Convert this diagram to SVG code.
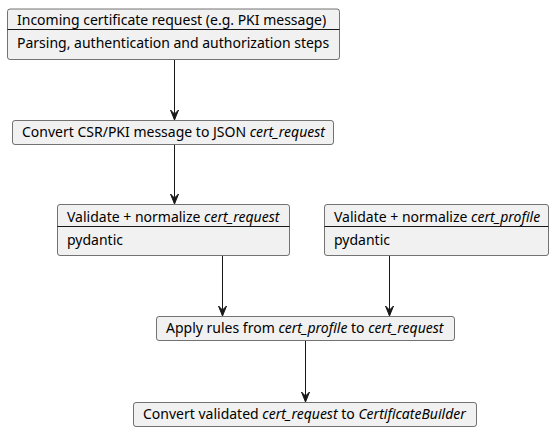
<svg xmlns="http://www.w3.org/2000/svg" width="556" height="431" viewBox="0 0 556 431">
<style>
.box{fill:#f1f1f1;stroke:#181818;stroke-width:0.6}
.div{stroke:#181818;stroke-width:1}
text{font-family:"Noto Sans","DejaVu Sans",sans-serif;font-size:14px;fill:#000}
.i{font-style:italic}
.ln{stroke:#181818;stroke-width:1;fill:none}
.ah{fill:#181818;stroke:#181818;stroke-width:1}
</style>
<rect width="556" height="431" fill="#fff"/>
<g id="n1">
<rect class="box" x="7.5" y="9" width="332" height="50.5" rx="2.5"/>
<line class="div" x1="7.5" y1="29.5" x2="339.5" y2="29.5"/>
<text x="17" y="25">Incoming certificate request (e.g. PKI message)</text>
<text x="17" y="47.5">Parsing, authentication and authorization steps</text>
</g>
<g id="n2">
<rect class="box" x="12.5" y="120.5" width="321" height="24" rx="2.5"/>
<text x="22" y="137">Convert CSR/PKI message to JSON <tspan class="i">cert_request</tspan></text>
</g>
<g id="n3">
<rect class="box" x="57.5" y="204.5" width="232" height="51" rx="2.5"/>
<line class="div" x1="57.5" y1="226.5" x2="289.5" y2="226.5"/>
<text x="67" y="221.5">Validate + normalize <tspan class="i">cert_request</tspan></text>
<text x="67" y="244.5">pydantic</text>
</g>
<g id="n4">
<rect class="box" x="324.5" y="204.5" width="224" height="51" rx="2.5"/>
<line class="div" x1="324.5" y1="226.5" x2="548.5" y2="226.5"/>
<text x="334" y="221.5">Validate + normalize <tspan class="i">cert_profile</tspan></text>
<text x="334" y="244.5">pydantic</text>
</g>
<g id="n5">
<rect class="box" x="156.5" y="316.5" width="298" height="24" rx="2.5"/>
<text x="166" y="333">Apply rules from <tspan class="i">cert_profile</tspan> to <tspan class="i">cert_request</tspan></text>
</g>
<g id="n6">
<rect class="box" x="133.5" y="402.5" width="343" height="24" rx="2.5"/>
<text x="143" y="419">Convert validated <tspan class="i">cert_request</tspan> to <tspan class="i">CertificateBuilder</tspan></text>
</g>
<g id="edges">
<line class="ln" x1="174.5" y1="60" x2="174.5" y2="118"/>
<polygon class="ah" points="170.5,110 174.5,120 178.5,110 174.5,114"/>
<line class="ln" x1="174.5" y1="145" x2="174.5" y2="202"/>
<polygon class="ah" points="170.5,194 174.5,204 178.5,194 174.5,198"/>
<line class="ln" x1="222.5" y1="256" x2="222.5" y2="314"/>
<polygon class="ah" points="218.5,306 222.5,316 226.5,306 222.5,310"/>
<line class="ln" x1="389.5" y1="256" x2="389.5" y2="314"/>
<polygon class="ah" points="385.5,306 389.5,316 393.5,306 389.5,310"/>
<line class="ln" x1="305.5" y1="341" x2="305.5" y2="400"/>
<polygon class="ah" points="301.5,392 305.5,402 309.5,392 305.5,396"/>
</g>
</svg>
